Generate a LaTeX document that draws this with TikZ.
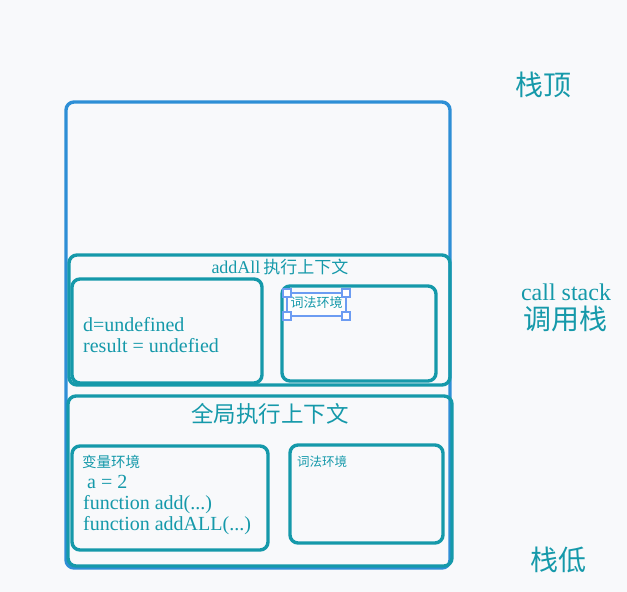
\documentclass[tikz,border=0pt]{standalone}
\usepackage{fontspec}
\setmainfont{Liberation Serif}
\newfontfamily\cjk{Noto Sans CJK SC}
\definecolor{bgcol}{HTML}{F8F9FB}
\definecolor{tealcol}{HTML}{1599AA}
\definecolor{bluecol}{HTML}{2E8FD6}
\definecolor{selcol}{HTML}{6C9CF2}
\tikzset{
  frame/.style={line width=3.4pt, rounded corners=8pt},
  txt/.style={text=tealcol, inner sep=0pt},
  handle/.style={draw=selcol, fill=white, line width=1.2pt, minimum size=8pt, inner sep=0pt}
}

\begin{document}
\begin{tikzpicture}[x=1pt, y=-1pt]
			%%%%% START %%%%%
			
			\fill[bgcol] (0, 0) rectangle (627, 592);
			\useasboundingbox (0, 0) rectangle (627, 592);
			
			% call stack frame
			\draw[frame, bluecol] (66, 102) rectangle (450, 568);
			
			% addAll context
			\draw[frame, tealcol] (69, 255) rectangle (450, 385);
			\draw[frame, tealcol] (72, 279) rectangle (262, 383);
			\draw[frame, tealcol] (282, 286) rectangle (436, 381);
			\node[txt, font=\fontsize{18}{20}\selectfont] (addall) at (280, 267) {addAll\,{\cjk\fontsize{17}{20}\selectfont 执行上下文}};
			\node[txt, anchor=west, align=left, font=\fontsize{20}{21}\selectfont] (vars) at (83, 335) {d=undefined\\result = undefied};
			
			% selected label
			\draw[selcol, line width=1.8pt, fill=white!60!bgcol] (287, 293) rectangle (346, 316);
			\node[txt, font=\cjk\fontsize{13}{15}\selectfont] (lexa) at (316.5, 303) {词法环境};
			\foreach \hx/\hy in {287/293, 346/293, 287/316, 346/316}
				\node[handle] at (\hx, \hy) {};
			
			% global context
			\draw[frame, tealcol] (68, 396) rectangle (452, 566);
			\draw[frame, tealcol] (72, 446) rectangle (268, 550);
			\draw[frame, tealcol] (290, 445) rectangle (443, 543);
			\node[txt, font=\cjk\fontsize{22.5}{26}\selectfont] (global) at (270, 414) {全局执行上下文};
			\node[txt, anchor=west, font=\cjk\fontsize{14.5}{17}\selectfont] (varenv) at (82, 462) {变量环境};
			\node[txt, anchor=west, align=left, font=\fontsize{20}{21}\selectfont] (gvars) at (83, 505) {\hspace{4pt}a = 2\\function add(...)\\function\hspace{5pt}addALL(...)};
			\node[txt, anchor=west, font=\cjk\fontsize{12.5}{15}\selectfont] (lexg) at (297, 462) {词法环境};
			
			% side labels
			\node[txt, font=\cjk\fontsize{28}{32}\selectfont] (top) at (543, 85) {栈顶};
			\node[txt, font=\fontsize{24}{28}\selectfont] (cs) at (566, 292) {call stack};
			\node[txt, font=\cjk\fontsize{28}{32}\selectfont] (csz) at (565, 319) {调用栈};
			\node[txt, font=\cjk\fontsize{28}{32}\selectfont] (bottom) at (558, 560) {栈低};
			
			%%%%% END %%%%%
\end{tikzpicture}
\end{document}
